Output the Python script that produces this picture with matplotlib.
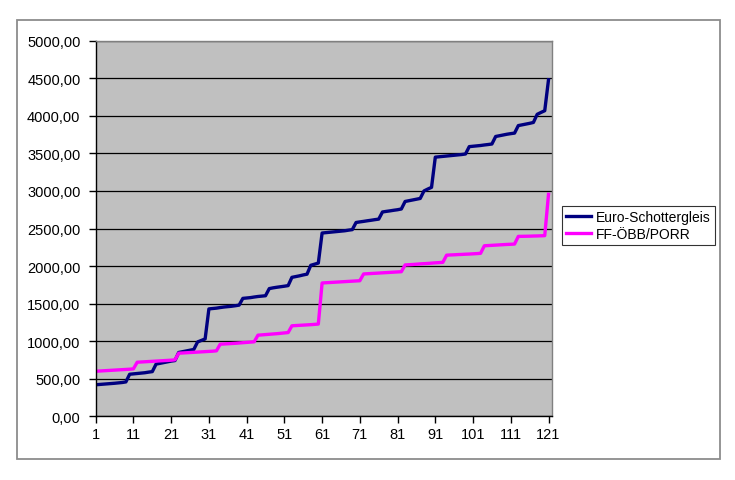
import matplotlib.pyplot as plt
from matplotlib.patches import Rectangle
from matplotlib.ticker import FuncFormatter

# Werte je Zeitpunkt 1..121
euro_schottergleis = [
    420, 424, 428, 432, 436, 440, 445, 450, 458,
    560, 565, 570, 575, 580, 588, 595,
    695, 705, 715, 725, 735, 742,
    850, 860, 870, 880, 890,
    990, 1010, 1030,
    1430, 1435, 1440, 1448, 1455, 1460, 1465, 1472, 1480,
    1570, 1575, 1580, 1588, 1595, 1600, 1605,
    1700, 1710, 1718, 1725, 1732, 1740,
    1850, 1860, 1870, 1882, 1892,
    2010, 2025, 2040,
    2440, 2445, 2450, 2455, 2460, 2465, 2470, 2478, 2485,
    2580, 2588, 2595, 2603, 2610, 2618, 2625,
    2720, 2728, 2735, 2743, 2750, 2760,
    2860, 2870, 2880, 2890, 2900,
    3000, 3025, 3048,
    3450, 3455, 3460, 3465, 3470, 3475, 3480, 3485, 3492,
    3590, 3595, 3600, 3605, 3612, 3618, 3625,
    3725, 3735, 3745, 3755, 3763, 3770,
    3870, 3880, 3890, 3900, 3912,
    4020, 4045, 4068,
    4480,
]
ff_oebb_porr = [
    600, 603, 606, 609, 612, 615, 618, 621, 624, 627, 632,
    720, 723, 726, 729, 732, 735, 738, 741, 744, 747, 752,
    840, 843, 846, 849, 852, 855, 858, 861, 864, 867, 872,
    960, 963, 966, 969, 972, 976, 980, 984, 988, 992,
    1080, 1084, 1088, 1092, 1096, 1100, 1105, 1110, 1115,
    1205, 1208, 1211, 1214, 1217, 1220, 1224, 1228,
    1775, 1778, 1781, 1784, 1787, 1790, 1793, 1796, 1799, 1802, 1805,
    1895, 1898, 1901, 1904, 1907, 1910, 1913, 1916, 1919, 1922, 1925,
    2015, 2018, 2021, 2025, 2029, 2032, 2035, 2039, 2043, 2046, 2050,
    2145, 2148, 2150, 2153, 2155, 2158, 2160, 2163, 2166, 2170,
    2270, 2273, 2276, 2279, 2282, 2285, 2288, 2290, 2293,
    2395, 2396, 2397, 2398, 2400, 2401, 2403, 2405,
    2955,
]
x_ticks = list(range(1, 122, 10))
y_ticks = list(range(0, 5001, 500))

plt.rcParams['font.family'] = ['Liberation Sans', 'DejaVu Sans']

fig = plt.figure(figsize=(7.35, 4.81), dpi=100)
fig.patch.set_facecolor('white')

# Rahmen um das ganze Diagramm (Excel-Stil)
fig.patches.append(Rectangle((0.0231, 0.0437), 0.9565, 0.9133, transform=fig.transFigure,
                             fill=False, edgecolor='#8c8c8c', linewidth=1.3))

ax = fig.add_axes([0.1302, 0.1324, 0.6212, 0.7809])
ax.set_facecolor('#c0c0c0')

x = list(range(1, len(euro_schottergleis) + 1))
ax.plot(x, euro_schottergleis, color='#000080', linewidth=2.4, label='Euro-Schottergleis')
ax.plot(x, ff_oebb_porr, color='#ff00ff', linewidth=2.4, label='FF-ÖBB/PORR')

ax.set_xlim(1, 122)
ax.set_ylim(0, 5000)
ax.set_xticks(x_ticks)
ax.set_yticks(y_ticks)
ax.yaxis.set_major_formatter(FuncFormatter(lambda v, p: f'{v:.2f}'.replace('.', ',')))
ax.tick_params(axis='both', labelsize=10.5, colors='black', length=5, width=1, direction='out')
ax.tick_params(axis='x', pad=3)
ax.tick_params(axis='y', pad=6)

ax.grid(True, axis='y', color='black', linewidth=0.9)
ax.set_axisbelow(True)
for side in ['left', 'bottom']:
    ax.spines[side].set_color('black')
    ax.spines[side].set_linewidth(1)
for side in ['top', 'right']:
    ax.spines[side].set_color('#808080')
    ax.spines[side].set_linewidth(1)

leg = ax.legend(loc='upper left', bbox_to_anchor=(0.7642, 0.5705), bbox_transform=fig.transFigure,
                fontsize=10.0, frameon=True, fancybox=False, borderpad=0.3,
                handlelength=1.8, handletextpad=0.35, labelspacing=0.25, borderaxespad=0)
leg.get_frame().set_edgecolor('black')
leg.get_frame().set_linewidth(0.8)

fig.savefig('out.png', dpi=100)
